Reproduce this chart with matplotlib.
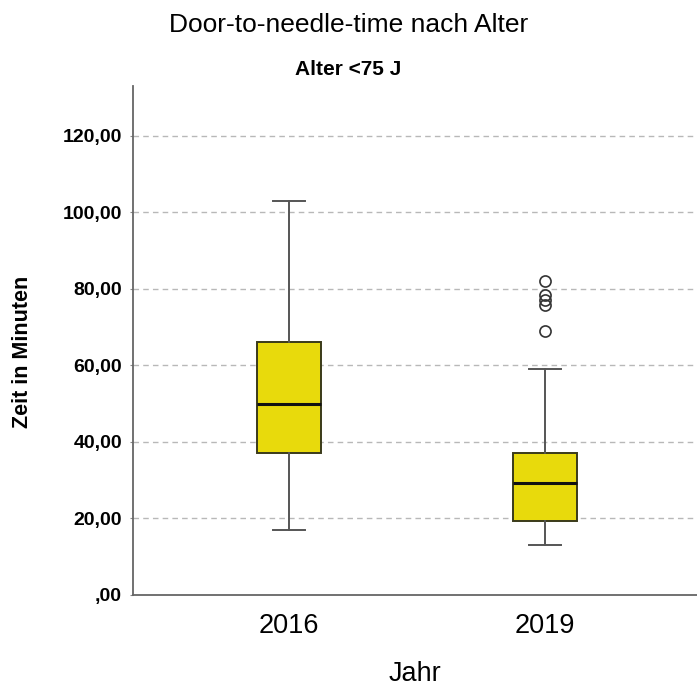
import matplotlib.pyplot as plt
from matplotlib.ticker import FuncFormatter

plt.rcParams["font.family"] = ["Liberation Sans", "DejaVu Sans"]

years = ["2016", "2019"]
# five-number summaries per year: lower whisker, Q1, median, Q3, upper whisker
whisker_low = [17, 13]
q1 = [37, 19.3]
median = [50, 29.3]
q3 = [66, 37]
whisker_high = [103, 59]
outliers = [[], [82, 78.5, 77, 75.8, 69]]

y_ticks = [0, 20, 40, 60, 80, 100, 120]

stats = []
for i, year in enumerate(years):
    stats.append({
        "label": year,
        "whislo": whisker_low[i],
        "q1": q1[i],
        "med": median[i],
        "q3": q3[i],
        "whishi": whisker_high[i],
        "fliers": outliers[i],
    })

fig = plt.figure(figsize=(6.97, 6.86), dpi=100)
ax = fig.add_axes([0.1908, 0.1327, 0.8092, 0.7419])

ax.bxp(
    stats,
    positions=range(len(years)),
    widths=0.25,
    patch_artist=True,
    boxprops={"facecolor": "#E8DA0C", "edgecolor": "#3a3a1a", "linewidth": 1.4},
    medianprops={"color": "#111111", "linewidth": 2.2},
    whiskerprops={"color": "#555555", "linewidth": 1.4},
    capprops={"color": "#555555", "linewidth": 1.4},
    capwidths=0.125,
    flierprops={"marker": "o", "markersize": 8, "markerfacecolor": "none",
                "markeredgecolor": "#333333", "markeredgewidth": 1.2},
    zorder=3,
)

ax.set_xlim(-0.609, 1.594)
ax.set_ylim(0, 133)
ax.set_yticks(y_ticks)
ax.yaxis.set_major_formatter(FuncFormatter(
    lambda v, _: ",00" if v == 0 else f"{int(v)},00"))
for lbl in ax.get_yticklabels():
    lbl.set_fontweight("bold")
ax.tick_params(axis="y", labelsize=14, length=2, color="#888888", pad=6)
ax.tick_params(axis="x", labelsize=19.5, length=0, pad=13)
ax.set_xticks(range(len(years)))
ax.set_xticklabels(years)

for v in y_ticks[1:]:
    ax.axhline(v, color="#b8b8b8", linestyle=(0, (4, 3)), linewidth=1.0, zorder=1)

for side in ("top", "right"):
    ax.spines[side].set_visible(False)
for side in ("left", "bottom"):
    ax.spines[side].set_color("#666666")
    ax.spines[side].set_linewidth(1.3)

ax.set_xlabel("Jahr", fontsize=19.5)
ax.xaxis.set_label_coords(0.5, -0.13)
ax.set_ylabel("Zeit in Minuten", fontsize=15.5, fontweight="bold")
ax.yaxis.set_label_coords(-0.177, 0.477)

fig.text(0.5, 0.9534, "Door-to-needle-time nach Alter", ha="center", va="baseline", fontsize=19)
fig.text(0.5, 0.8907, "Alter <75 J", ha="center", va="baseline", fontsize=15, fontweight="bold")

fig.savefig("out.png", dpi=100)
